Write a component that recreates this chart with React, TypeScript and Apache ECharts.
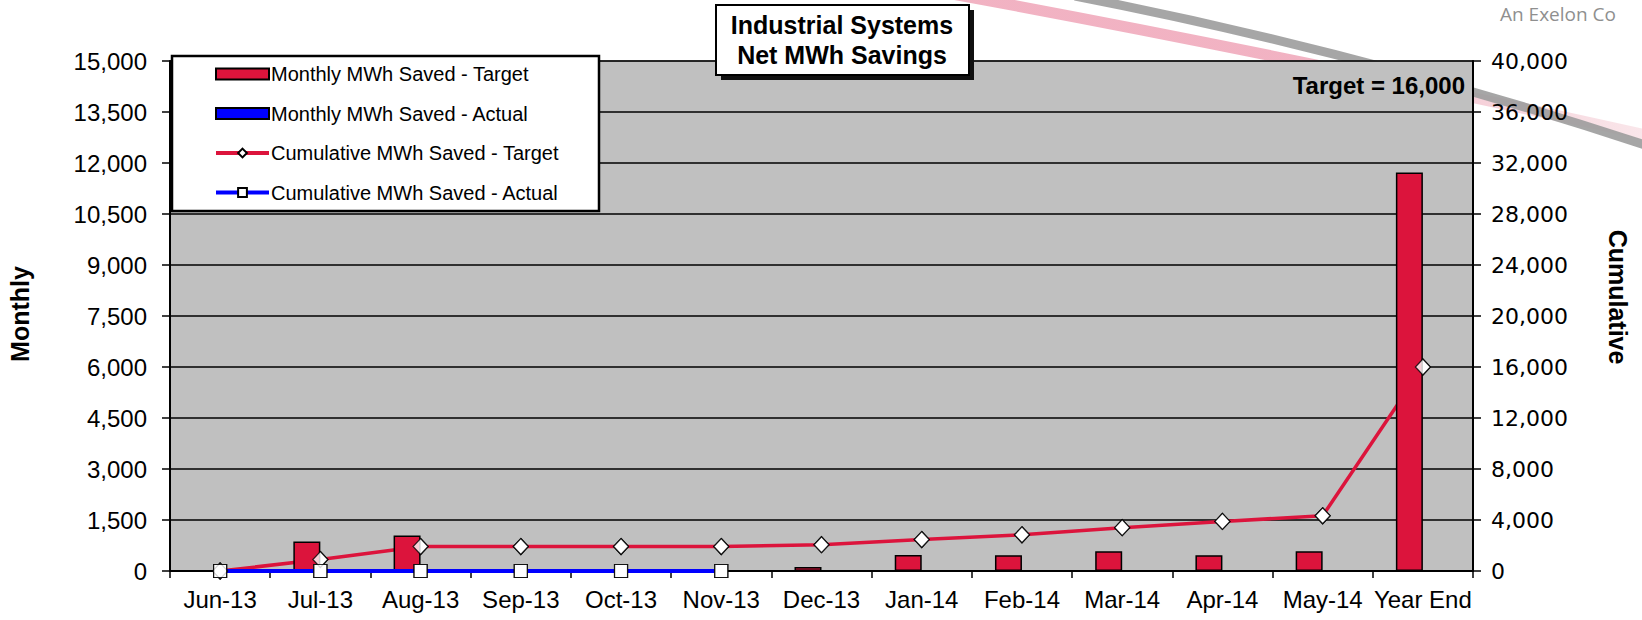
import React, { useEffect, useRef } from "react";
import * as echarts from "echarts";

const categories = ["Jun-13", "Jul-13", "Aug-13", "Sep-13", "Oct-13", "Nov-13", "Dec-13", "Jan-14", "Feb-14", "Mar-14", "Apr-14", "May-14", "Year End"];
const monthlyTarget = [0, 870, 1045, 0, 0, 0, 120, 470, 465, 580, 465, 580, 11720];
const monthlyActual: (number | null)[] = [null, null, null, null, null, null, null, null, null, null, null, null, null];
const cumulativeTarget = [0, 900, 1920, 1920, 1920, 1920, 2060, 2470, 2840, 3400, 3890, 4330, 16000];
const cumulativeActual: (number | null)[] = [0, 0, 0, 0, 0, 0, null, null, null, null, null, null, null];

const seriesNames = [
  "Monthly MWh Saved - Target",
  "Monthly MWh Saved - Actual",
  "Cumulative MWh Saved - Target",
  "Cumulative MWh Saved - Actual",
];
const leftTicks = { min: 0, max: 15000, interval: 1500 };
const rightTicks = { min: 0, max: 40000, interval: 4000 };
const axisTitles = ["Monthly", "Cumulative"];
const titleLines = ["Industrial Systems", "Net MWh Savings"];
const targetNote = "Target = 16,000";
const logoText = "An Exelon Co";

const RED = "#DC143C";
const BLUE = "#0000FF";
const ARIAL = "'Liberation Sans', Arial, sans-serif";
const fmt = (v: number) => v.toLocaleString("en-US");

export default function App() {
  const ref = useRef<HTMLDivElement>(null);
  useEffect(() => {
    document.body.style.margin = "0";
    const chart = echarts.init(ref.current!, null, { renderer: "svg" });
    chart.setOption({
      animation: false,
      backgroundColor: "#ffffff",
      grid: {
        left: 170,
        right: 169,
        top: 61,
        bottom: 49,
        show: true,
        outerBoundsMode: "none",
        containLabel: false,
        backgroundColor: "#C0C0C0",
        borderColor: "#808080",
        borderWidth: 1.5,
      },
      legend: {
        orient: "vertical",
        left: 214,
        top: 63,
        z: 20,
        itemWidth: 53,
        itemHeight: 11,
        itemGap: 17.5,
        padding: 0,
        selectedMode: false,
        textStyle: { fontFamily: ARIAL, fontSize: 20, color: "#000", lineHeight: 22, padding: [0, 0, 0, -3] },
        data: [
          { name: seriesNames[0], icon: "rect" },
          { name: seriesNames[1], icon: "rect" },
          { name: seriesNames[2], lineStyle: { width: 4, color: RED } },
          { name: seriesNames[3], lineStyle: { width: 4, color: BLUE } },
        ],
      },
      xAxis: {
        type: "category",
        data: categories,
        boundaryGap: true,
        axisLine: { lineStyle: { color: "#000", width: 2 } },
        axisTick: { show: true, length: 7, lineStyle: { color: "#000", width: 1.5 } },
        axisLabel: { interval: 0, margin: 16, fontFamily: ARIAL, fontSize: 24, color: "#000" },
        splitLine: { show: false },
      },
      yAxis: [
        {
          type: "value",
          position: "left",
          ...leftTicks,
          axisLine: { show: true, lineStyle: { color: "#000", width: 2 } },
          axisTick: { show: true, length: 8, lineStyle: { color: "#000", width: 1.5 } },
          axisLabel: { margin: 23, fontFamily: ARIAL, fontSize: 24, color: "#000", formatter: fmt },
          splitLine: { show: true, lineStyle: { color: "#000", width: 1.5 } },
        },
        {
          type: "value",
          position: "right",
          ...rightTicks,
          axisLine: { show: true, lineStyle: { color: "#000", width: 2 } },
          axisTick: { show: true, length: 8, lineStyle: { color: "#000", width: 1.5 } },
          axisLabel: { margin: 18, fontFamily: "'DejaVu Sans', Verdana, sans-serif", fontSize: 22, color: "#000", formatter: fmt },
          splitLine: { show: false },
        },
      ],
      series: [
        {
          name: seriesNames[0],
          type: "bar",
          data: monthlyTarget,
          barWidth: 27,
          barGap: "0%",
          z: 3,
          itemStyle: { color: RED, borderColor: "#000", borderWidth: 1.5 },
        },
        {
          name: seriesNames[1],
          type: "bar",
          data: monthlyActual,
          barWidth: 27,
          barGap: "0%",
          z: 3,
          itemStyle: { color: BLUE, borderColor: "#000", borderWidth: 1.5 },
        },
        {
          name: seriesNames[2],
          type: "line",
          yAxisIndex: 1,
          data: cumulativeTarget,
          z: 2,
          symbol: "diamond",
          symbolSize: [15, 16],
          lineStyle: { color: RED, width: 3.5 },
          itemStyle: { color: "#fff", borderColor: "#000", borderWidth: 1.2 },
        },
        {
          name: seriesNames[3],
          type: "line",
          yAxisIndex: 1,
          data: cumulativeActual,
          z: 4,
          symbol: "rect",
          symbolSize: 13,
          lineStyle: { color: BLUE, width: 4 },
          itemStyle: { color: "#fff", borderColor: "#000", borderWidth: 1.2 },
        },
        {
          name: "cumTargetMarkers",
          type: "scatter",
          yAxisIndex: 1,
          data: cumulativeTarget,
          z: 5,
          silent: true,
          symbol: "diamond",
          symbolSize: [15, 16],
          itemStyle: { color: "#fff", borderColor: "#000", borderWidth: 1.2 },
        },
        {
          name: "cumActualMarkers",
          type: "scatter",
          yAxisIndex: 1,
          data: cumulativeActual,
          z: 6,
          silent: true,
          symbol: "rect",
          symbolSize: 13,
          itemStyle: { color: "#fff", borderColor: "#000", borderWidth: 1.2 },
        },
      ],
      graphic: [
        {
          type: "bezierCurve",
          z: -5,
          silent: true,
          shape: { x1: 930, y1: -10, cpx1: 1250, cpy1: 48, x2: 1660, y2: 138 },
          style: {
            stroke: new echarts.graphic.LinearGradient(0, 0, 1, 0, [
              { offset: 0, color: "rgba(240,170,188,0.9)" },
              { offset: 0.5, color: "rgba(240,170,188,0.9)" },
              { offset: 1, color: "rgba(240,190,200,0.35)" },
            ]),
            lineWidth: 11,
            fill: null,
          },
        },
        {
          type: "bezierCurve",
          z: -4,
          silent: true,
          shape: { x1: 1075, y1: -4, cpx1: 1250, cpy1: 30, cpx2: 1450, cpy2: 80, x2: 1660, y2: 150 },
          style: { stroke: "#9c9c9c", lineWidth: 9, fill: null, opacity: 0.9 },
        },
        {
          type: "text",
          z: -3,
          silent: true,
          x: 1500,
          y: 4,
          style: { text: logoText, fill: "#8f8f8f", font: "19px 'Open Sans', sans-serif", textVerticalAlign: "top" },
        },
        {
          type: "rect",
          z: 8,
          silent: true,
          shape: { x: 172, y: 56, width: 427, height: 155 },
          style: { fill: "#fff", stroke: "#000", lineWidth: 2.5 },
        },
        {
          type: "rect",
          z: 8,
          silent: true,
          shape: { x: 721, y: 10, width: 253, height: 70 },
          style: { fill: "#111" },
        },
        {
          type: "rect",
          z: 9,
          silent: true,
          shape: { x: 716, y: 5, width: 253, height: 70 },
          style: { fill: "#fff", stroke: "#000", lineWidth: 2 },
        },
        {
          type: "text",
          z: 10,
          silent: true,
          x: 842,
          y: 25,
          style: { text: titleLines[0], fill: "#000", font: "bold 25px 'Liberation Sans', Arial, sans-serif", textAlign: "center", textVerticalAlign: "middle" },
        },
        {
          type: "text",
          z: 10,
          silent: true,
          x: 842,
          y: 55,
          style: { text: titleLines[1], fill: "#000", font: "bold 25px 'Liberation Sans', Arial, sans-serif", textAlign: "center", textVerticalAlign: "middle" },
        },
        {
          type: "text",
          z: 10,
          silent: true,
          x: 1465,
          y: 85,
          style: { text: targetNote, fill: "#000", font: "bold 24px 'Liberation Sans', Arial, sans-serif", textAlign: "right", textVerticalAlign: "middle" },
        },
        {
          type: "text",
          silent: true,
          x: 20,
          y: 314,
          rotation: Math.PI / 2,
          style: { text: axisTitles[0], fill: "#000", font: "bold 25px 'Liberation Sans', Arial, sans-serif", textAlign: "center", textVerticalAlign: "middle" },
        },
        {
          type: "text",
          silent: true,
          x: 1618,
          y: 297,
          rotation: -Math.PI / 2,
          style: { text: axisTitles[1], fill: "#000", font: "bold 25px 'Liberation Sans', Arial, sans-serif", textAlign: "center", textVerticalAlign: "middle" },
        },
      ],
    });
    return () => chart.dispose();
  }, []);
  return <div ref={ref} style={{ width: 1642, height: 620 }} />;
}
